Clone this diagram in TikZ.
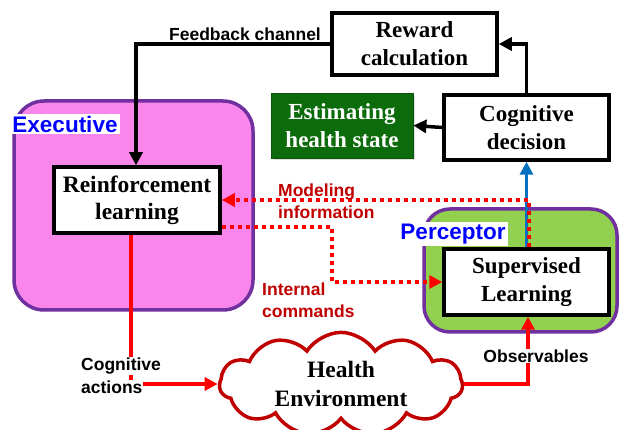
\documentclass[tikz,border=0pt]{standalone}
\usepackage{fontspec}
\setmainfont{Liberation Serif}
\setsansfont{Liberation Sans}
\usetikzlibrary{arrows.meta,shapes.symbols,shadows}
\definecolor{execpink}{RGB}{249,134,235}
\definecolor{frame}{RGB}{112,48,160}
\definecolor{percgreen}{RGB}{146,208,80}
\definecolor{estgreen}{RGB}{12,108,12}
\definecolor{darkred}{RGB}{192,0,0}
\definecolor{linkblue}{RGB}{0,112,192}
\tikzset{
  block/.style={draw=black, fill=white, line width=3.5pt, inner sep=2pt,
    align=center, font=\fontsize{23}{28}\selectfont\bfseries},
  container/.style={draw=frame, line width=3.5pt},
  tag/.style={font=\sffamily\bfseries\fontsize{22.5}{26}\selectfont, text=blue,
    fill=white, inner sep=2pt},
  lbl/.style={font=\sffamily\bfseries\fontsize{17.5}{21.5}\selectfont, align=left, inner sep=1pt},
  tip/.style={-{Triangle[length=13pt,width=13pt]}},
  blackarrow/.style={line width=3.5pt, tip},
  redarrow/.style={draw=red, line width=3.5pt, tip},
  reddots/.style={draw=red, line width=4pt, dash pattern=on 4pt off 4pt, tip},
}
\begin{document}
\begin{tikzpicture}[x=1pt,y=-1pt]
\useasboundingbox (0,0) rectangle (619,430);

% agent containers
\draw[container, fill=execpink, rounded corners=30pt] (14,101) rectangle (253,310);
\draw[container, fill=percgreen, rounded corners=26pt] (424,209) rectangle (617,332);

% processing blocks
\node[block, minimum width=166pt, minimum height=66pt, font=\fontsize{23.5}{27}\selectfont\bfseries] (rl) at (137,200) {Reinforcement\\learning};
\node[block, minimum width=165pt, minimum height=62pt] (rew) at (414.5,44) {Reward\\calculation};
\node[block, minimum width=165pt, minimum height=65pt] (cog) at (526.5,127.5) {Cognitive\\decision};
\node[block, minimum width=165pt, minimum height=66pt] (sup) at (526.5,282) {Supervised\\Learning};
\node[draw=estgreen!80!black, line width=0.8pt, fill=estgreen, text=white, align=center,
  minimum width=142pt, minimum height=65pt, font=\fontsize{23}{28}\selectfont\bfseries,
  drop shadow={opacity=0.25, shadow xshift=2pt, shadow yshift=-2pt}] (est) at (342,125.5)
  {Estimating\\health state};
\node[cloud, cloud puffs=11, cloud puff arc=115, aspect=2.6, draw=darkred, fill=white,
  line width=3.5pt, minimum width=243pt, minimum height=92pt, align=center,
  font=\fontsize{23.5}{29}\selectfont\bfseries] (env) at (341,384) {Health\\Environment};

% agent names
\node[tag] (exe) at (65,124) {Executive};
\node[tag] (per) at (453,234) {Perceptor};

% feedback loop
\draw[blackarrow] (rew.west) -| ([xshift=-1pt]rl.north);
\node[lbl] (fb) at (245,34) {Feedback channel};
\draw[blackarrow] (cog.north) |- (rew.east);
\draw[blackarrow] (cog.west) -- (est.east);

% perceptor to decision
\draw[line width=3.5pt, draw=linkblue, tip] (sup.north) -- (cog.south);

% internal links between perceptor and executive
\draw[reddots] ([xshift=2pt]sup.north) |- (rl.east);
\node[lbl, text=darkred, anchor=west] (mi) at (277,201) {Modeling\\information};
\coordinate (icturn) at (332,227);
\draw[reddots] (rl.east |- icturn) -- (icturn) |- (sup.west);
\node[lbl, text=darkred, anchor=west] (ic) at (261,300) {Internal\\commands};

% interaction with the environment
\draw[redarrow] ([xshift=-6pt]rl.south) |- (env.west);
\node[lbl, fill=white, anchor=west] (ca1) at (80,366) {Cognitive};
\node[lbl, fill=white, anchor=west] (ca2) at (80,387) {actions};
\draw[redarrow] (env.east) -| ([xshift=1.5pt]sup.south);
\node[lbl, fill=white] (obs) at (536,356) {Observables};
\end{tikzpicture}
\end{document}
